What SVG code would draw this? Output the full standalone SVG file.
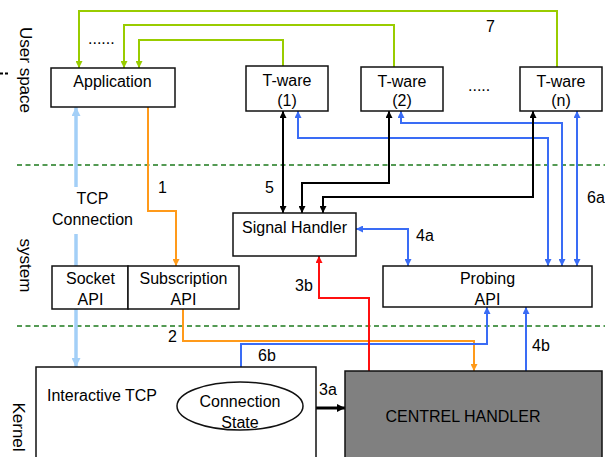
<svg xmlns="http://www.w3.org/2000/svg" width="605" height="457" viewBox="0 0 605 457">
  <style>
    text { font-family: "Liberation Sans", Arial, sans-serif; font-size: 16px; fill: #000; }
    .mid { text-anchor: middle; }
    .side { font-size: 17px; text-anchor: middle; }
    .box { fill: #fff; stroke: #111; stroke-width: 1.5; }
    .layer { stroke: #1c7a1c; stroke-width: 1.4; stroke-dasharray: 5 3.5; fill: none; }
    .c { fill: none; stroke-width: 2; }
    .green { stroke: #99cc00; marker-end: url(#ag); }
    .orange { stroke: #ff9a1a; marker-end: url(#ao); }
    .red { stroke: #ff1010; marker-end: url(#ar); }
    .blue { stroke: #3a6cf5; marker-end: url(#ab); }
    .blue2 { stroke: #3a6cf5; marker-start: url(#ab); marker-end: url(#ab); }
    .black2 { stroke: #000; marker-start: url(#ak); marker-end: url(#ak); }
    .tcp { stroke: #a3cff7; stroke-width: 3.5; fill: none; }
  </style>
  <defs>
    <marker id="ag" viewBox="0 0 10 10" refX="10" refY="5" markerWidth="7" markerHeight="7" markerUnits="userSpaceOnUse" orient="auto-start-reverse"><path d="M0,0 L10,5 L0,10 Z" fill="#99cc00"/></marker>
    <marker id="ao" viewBox="0 0 10 10" refX="10" refY="5" markerWidth="7" markerHeight="7" markerUnits="userSpaceOnUse" orient="auto-start-reverse"><path d="M0,0 L10,5 L0,10 Z" fill="#ff9a1a"/></marker>
    <marker id="ar" viewBox="0 0 10 10" refX="10" refY="5" markerWidth="7" markerHeight="7" markerUnits="userSpaceOnUse" orient="auto-start-reverse"><path d="M0,0 L10,5 L0,10 Z" fill="#ff1010"/></marker>
    <marker id="ab" viewBox="0 0 10 10" refX="10" refY="5" markerWidth="7" markerHeight="7" markerUnits="userSpaceOnUse" orient="auto-start-reverse"><path d="M0,0 L10,5 L0,10 Z" fill="#3a6cf5"/></marker>
    <marker id="ak" viewBox="0 0 10 10" refX="10" refY="5" markerWidth="7" markerHeight="7" markerUnits="userSpaceOnUse" orient="auto-start-reverse"><path d="M0,0 L10,5 L0,10 Z" fill="#000"/></marker>
    <marker id="al" viewBox="0 0 10 10" refX="10" refY="5" markerWidth="9" markerHeight="9" markerUnits="userSpaceOnUse" orient="auto-start-reverse"><path d="M0,0 L10,5 L0,10 Z" fill="#a3cff7"/></marker>
    <marker id="ak3" viewBox="0 0 10 10" refX="10" refY="5" markerWidth="8" markerHeight="8" markerUnits="userSpaceOnUse" orient="auto"><path d="M0,0 L10,5 L0,10 Z" fill="#000"/></marker>
  </defs>

  <!-- layer boundaries -->
  <g id="layers">
    <line class="layer" x1="17" y1="165" x2="605" y2="165"/>
    <line class="layer" x1="17" y1="326" x2="605" y2="326"/>
    <line x1="0" y1="73.5" x2="9" y2="73.5" stroke="#000" stroke-width="2" stroke-dasharray="3 2"/>
    <text class="side" transform="translate(25.5,70) rotate(90)" x="0" y="6">User space</text>
    <text class="side" transform="translate(25.5,265.5) rotate(90)" x="0" y="6">system</text>
    <text class="side" transform="translate(18.5,427) rotate(90)" x="0" y="6">Kernel</text>
  </g>

  <!-- connectors -->
  <g id="connectors">
    <!-- 7: T-ware notifications back to the application -->
    <path class="c green" d="M557,67 V11 H79 V68"/>
    <path class="c green" d="M394,67 V25 H124 V68"/>
    <path class="c green" d="M283,66 V40 H139 V68"/>
    <text x="486" y="32">7</text>
    <text x="88" y="44">......</text>
    <text x="468" y="91">.....</text>

    <!-- TCP connection -->
    <path class="tcp" d="M76,187 V107" marker-end="url(#al)"/>
    <path class="tcp" d="M76,234 V367" marker-end="url(#al)"/>
    <text class="mid" x="92.5" y="204">TCP</text>
    <text class="mid" x="92.5" y="225">Connection</text>

    <!-- 1 and 2: subscription path -->
    <path class="c orange" d="M148,107 V211 H176 V266"/>
    <text x="158" y="193">1</text>
    <path class="c orange" d="M183,309 V341 H474 V371"/>
    <text x="168" y="342">2</text>

    <!-- 6b, 4b: probing to kernel -->
    <path class="c blue2" d="M487,307 V344 H241 V382"/>
    <text x="258" y="361">6b</text>
    <path class="c blue" d="M526,371 V307"/>
    <text x="532" y="351">4b</text>

    <!-- 4a -->
    <path class="c blue2" d="M356,229 H408 V266"/>
    <text x="416" y="241">4a</text>

    <!-- 6a: probing API to each T-ware -->
    <path class="c blue2" d="M298,111 V138 H548 V266"/>
    <path class="c blue2" d="M401,111 V123 H562 V266"/>
    <path class="c blue2" d="M577,111 V266"/>
    <text x="587" y="203">6a</text>

    <!-- 5: signal handler to T-wares -->
    <path class="c black2" d="M283,111 V213"/>
    <path class="c black2" d="M389,111 V183 H302 V213"/>
    <path class="c black2" d="M533,111 V197 H323 V213"/>
    <text x="265" y="193">5</text>

    <!-- 3b -->
    <path class="c red" d="M369,371 V298 H319 V256"/>
    <text x="295" y="291">3b</text>

    <!-- 3a -->
    <path d="M316,408 H345" fill="none" stroke="#000" stroke-width="3" marker-end="url(#ak3)"/>
    <text x="319" y="395">3a</text>
  </g>

  <!-- nodes -->
  <g id="application">
    <rect class="box" x="51" y="68" width="124" height="39"/>
    <text class="mid" x="112.5" y="87">Application</text>
  </g>
  <g id="tware1">
    <rect class="box" x="246" y="66" width="82" height="45"/>
    <text class="mid" x="287" y="86">T-ware</text>
    <text class="mid" x="287" y="106">(1)</text>
  </g>
  <g id="tware2">
    <rect class="box" x="361" y="67" width="82" height="44"/>
    <text class="mid" x="402" y="87">T-ware</text>
    <text class="mid" x="402" y="106">(2)</text>
  </g>
  <g id="twaren">
    <rect class="box" x="520" y="67" width="82" height="44"/>
    <text class="mid" x="561" y="87">T-ware</text>
    <text class="mid" x="561" y="106">(n)</text>
  </g>
  <g id="signal-handler">
    <rect class="box" x="233" y="213" width="123" height="43"/>
    <text class="mid" x="294.5" y="233">Signal Handler</text>
  </g>
  <g id="socket-api">
    <rect class="box" x="52" y="266" width="76" height="43"/>
    <text class="mid" x="90.5" y="284">Socket</text>
    <text class="mid" x="90.5" y="305">API</text>
  </g>
  <g id="subscription-api">
    <rect class="box" x="128" y="266" width="111" height="43"/>
    <text class="mid" x="183.5" y="284">Subscription</text>
    <text class="mid" x="183.5" y="305">API</text>
  </g>
  <g id="probing-api">
    <rect class="box" x="383" y="266" width="209" height="41"/>
    <text class="mid" x="487.5" y="284">Probing</text>
    <text class="mid" x="487.5" y="305">API</text>
  </g>
  <g id="interactive-tcp">
    <rect class="box" x="36" y="367" width="280" height="100"/>
    <text x="47" y="401">Interactive TCP</text>
  </g>
  <g id="connection-state">
    <ellipse cx="240" cy="406" rx="63" ry="24" fill="#fff" stroke="#111" stroke-width="1.5"/>
    <text class="mid" x="240" y="407">Connection</text>
    <text class="mid" x="240" y="428">State</text>
  </g>
  <g id="centrel-handler">
    <rect x="345" y="371" width="257" height="100" fill="#808080" stroke="#111" stroke-width="1.5"/>
    <text class="mid" x="463" y="422">CENTREL HANDLER</text>
  </g>
</svg>
